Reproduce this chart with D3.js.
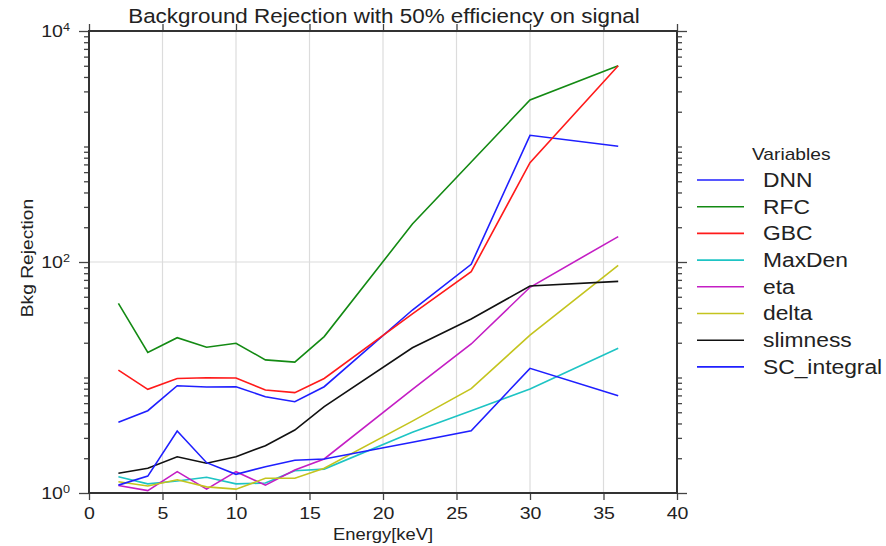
<!DOCTYPE html>
<html>
<head>
<meta charset="utf-8">
<script src="https://cdn.jsdelivr.net/npm/d3@7"></script>
<style>
  body { margin: 0; background: #fff; }
  text { font-family: "Liberation Sans", Arial, sans-serif; fill: #222; }
</style>
</head>
<body>
<div id="chart"></div>
<script>
// energy points (keV)
var energy = [2, 4, 6, 8, 10, 12, 14, 16, 22, 26, 30, 36];

var seriesNames = ["DNN", "RFC", "GBC", "MaxDen", "eta", "delta", "slimness", "SC_integral"];
var seriesColors = ["#1f1fff", "#138a13", "#ff1a1a", "#1ec4c4", "#c41ec4", "#c4c41e", "#111111", "#1f1fff"];

var dnn       = [4.09, 5.16, 8.49, 8.28, 8.32, 6.82, 6.17, 8.32, 38.4, 95.5, 1250, 1004];
var rfc       = [43.9, 16.5, 22.1, 18.3, 19.8, 14.2, 13.6, 22.6, 213, 734, 2527, 5008];
var gbc       = [11.6, 7.9, 9.8, 9.96, 9.9, 7.8, 7.4, 9.8, 35.5, 82.4, 724, 5008];
var maxden    = [1.38, 1.20, 1.27, 1.37, 1.20, 1.22, 1.56, 1.61, 3.35, 5.16, 7.95, 17.9];
var eta       = [1.16, 1.05, 1.53, 1.08, 1.53, 1.17, 1.58, 1.97, 7.89, 19.5, 60.4, 166];
var delta     = [1.25, 1.15, 1.30, 1.13, 1.08, 1.34, 1.34, 1.64, 4.19, 8.0, 23.3, 93.6];
var slimness  = [1.48, 1.64, 2.06, 1.81, 2.06, 2.57, 3.51, 5.59, 18.1, 32.1, 62, 68];
var scIntegral= [1.17, 1.40, 3.44, 1.83, 1.45, 1.69, 1.92, 1.97, 2.75, 3.46, 12.0, 6.96];

var seriesValues = [dnn, rfc, gbc, maxden, eta, delta, slimness, scIntegral];

var xTicks = [0, 5, 10, 15, 20, 25, 30, 35, 40];
var yMajorTicks = [1, 100, 10000];

// text in the original is drawn a bit wider than normal
var SX = 1.15;

function init() {
  var W = 886, H = 546;
  var left = 89, right = 677, top = 31, bottom = 493;

  var svg = d3.select("#chart").append("svg")
    .attr("width", W).attr("height", H);

  var x = d3.scaleLinear().domain([0, 40]).range([left, right]);
  var y = d3.scaleLog().domain([1, 10000]).range([bottom, top]);

  // minor log ticks 1..9 x 10^k
  var yMinor = [];
  for (var k = 0; k < 4; k++) {
    for (var m = 1; m < 10; m++) {
      var v = m * Math.pow(10, k);
      if (yMajorTicks.indexOf(v) < 0) yMinor.push(v);
    }
  }

  // grid
  svg.append("g").selectAll("line.gx")
    .data(xTicks.slice(1, -1)).enter().append("line")
    .attr("x1", d => x(d)).attr("x2", d => x(d))
    .attr("y1", top).attr("y2", bottom)
    .attr("stroke", "#dcdcdc").attr("stroke-width", 1.2);
  svg.append("line")
    .attr("x1", left).attr("x2", right)
    .attr("y1", y(100)).attr("y2", y(100))
    .attr("stroke", "#dcdcdc").attr("stroke-width", 1.2);

  function styleAxis(g) {
    g.select(".domain").remove();
    g.selectAll(".tick line").attr("stroke", "#444").attr("stroke-width", 1.3);
  }

  // x axes
  var xb = svg.append("g").attr("transform", "translate(0," + bottom + ")")
    .call(d3.axisBottom(x).tickValues(xTicks).tickSize(7).tickFormat(""))
    .call(styleAxis);
  xb.selectAll(".tick").append("text")
    .attr("transform", "translate(0,26) scale(" + SX + ",1)")
    .attr("text-anchor", "middle").attr("font-size", 17).attr("fill", "#222")
    .text(d => d);
  svg.append("g").attr("transform", "translate(0," + top + ")")
    .call(d3.axisTop(x).tickValues(xTicks).tickSize(7).tickFormat(""))
    .call(styleAxis);

  // y axes
  svg.append("g").attr("transform", "translate(" + left + ",0)")
    .call(d3.axisLeft(y).tickValues(yMinor).tickSize(5).tickFormat(""))
    .call(styleAxis);
  var yl = svg.append("g").attr("transform", "translate(" + left + ",0)")
    .call(d3.axisLeft(y).tickValues(yMajorTicks).tickSize(10).tickFormat(""))
    .call(styleAxis);
  yl.selectAll(".tick").each(function(d) {
    var t = d3.select(this).append("text")
      .attr("transform", "translate(-19,0) scale(" + SX + ",1)")
      .attr("dy", "0.35em")
      .attr("text-anchor", "end").attr("font-size", 17).attr("fill", "#222");
    t.append("tspan").text("10");
    t.append("tspan").attr("dy", "-0.55em").attr("font-size", 11)
      .text(Math.round(Math.log10(d)));
  });
  svg.append("g").attr("transform", "translate(" + right + ",0)")
    .call(d3.axisRight(y).tickValues(yMinor).tickSize(5).tickFormat(""))
    .call(styleAxis);
  svg.append("g").attr("transform", "translate(" + right + ",0)")
    .call(d3.axisRight(y).tickValues(yMajorTicks).tickSize(10).tickFormat(""))
    .call(styleAxis);

  // lines
  var line = d3.line()
    .x((d, i) => x(energy[i]))
    .y(d => y(d));

  svg.append("g").selectAll("path.series")
    .data(seriesValues).enter().append("path")
    .attr("class", "series")
    .attr("fill", "none")
    .attr("stroke", (d, i) => seriesColors[i])
    .attr("stroke-width", 1.6)
    .attr("d", line);

  // frame
  svg.append("rect")
    .attr("x", left).attr("y", top)
    .attr("width", right - left).attr("height", bottom - top)
    .attr("fill", "none").attr("stroke", "#333").attr("stroke-width", 2);

  // title and axis labels
  svg.append("text")
    .attr("transform", "translate(384,23) scale(" + SX + ",1)")
    .attr("text-anchor", "middle").attr("font-size", 19.5)
    .text("Background Rejection with 50% efficiency on signal");
  svg.append("text")
    .attr("transform", "translate(383,540) scale(" + SX + ",1)")
    .attr("text-anchor", "middle").attr("font-size", 16)
    .text("Energy[keV]");
  svg.append("text")
    .attr("transform", "translate(33,258) rotate(-90) scale(1.2,1)")
    .attr("text-anchor", "middle").attr("font-size", 16)
    .text("Bkg Rejection");

  // legend
  var leg = svg.append("g");
  leg.append("text")
    .attr("transform", "translate(752,160) scale(1.2,1)")
    .attr("font-size", 16)
    .text("Variables");
  var rows = leg.selectAll("g.row")
    .data(seriesNames).enter().append("g")
    .attr("transform", (d, i) => "translate(0," + (180 + i * 26.7) + ")");
  rows.append("line")
    .attr("x1", 697).attr("x2", 744)
    .attr("stroke", (d, i) => seriesColors[i])
    .attr("stroke-width", 1.6);
  rows.append("text")
    .attr("transform", "translate(763,0) scale(1.17,1)")
    .attr("dy", "0.35em")
    .attr("font-size", 19.5)
    .text(d => d);
}

window.onload = init;
</script>
</body>
</html>
